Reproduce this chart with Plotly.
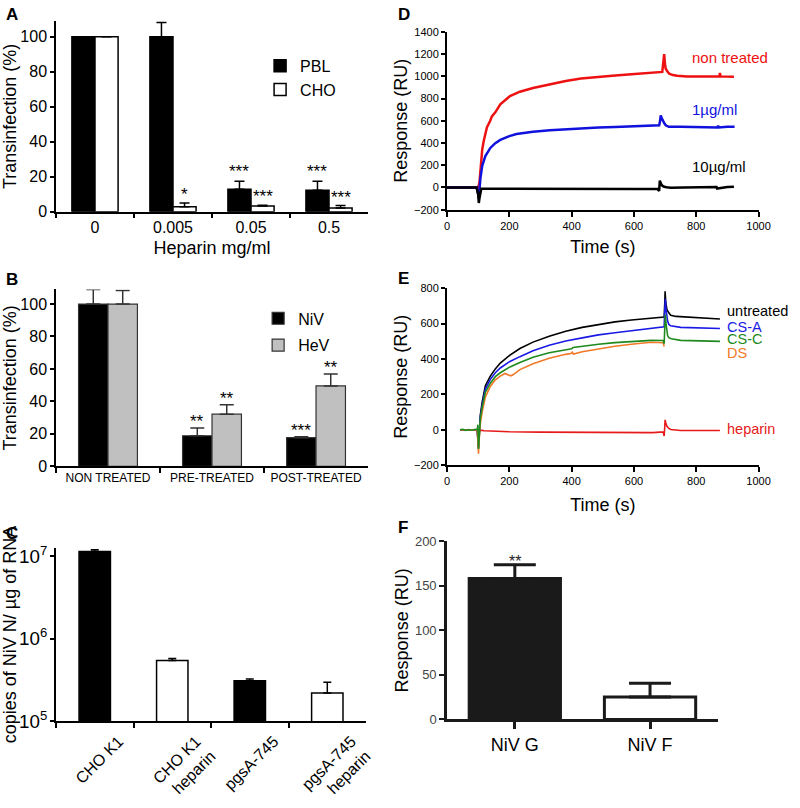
import plotly.graph_objects as go

FONT = "Arial, Liberation Sans, sans-serif"
W, H = 800, 808

# ---------------- data ----------------
# Panel A
a_conc = ["0", "0.005", "0.05", "0.5"]
a_pbl = [100, 100, 12.8, 12.2]
a_pbl_err = [0, 8.2, 4.6, 5.2]
a_cho = [100, 2.8, 3.2, 2.1]
a_cho_err = [0, 2.2, 0.5, 1.4]
a_pbl_sig = ["", "", "***", "***"]
a_cho_sig = ["", "*", "***", "***"]

# Panel B
b_groups = ["NON TREATED", "PRE-TREATED", "POST-TREATED"]
b_niv = [100, 18.8, 17.6]
b_niv_err = [9.0, 4.8, 0.6]
b_hev = [100, 32.1, 49.5]
b_hev_err = [8.4, 5.8, 7.4]
b_niv_sig = ["", "**", "***"]
b_hev_sig = ["", "**", "**"]

# Panel C
c_cells = ["CHO K1", "CHO K1<br>heparin", "pgsA-745", "pgsA-745<br>heparin"]
c_copies = [1.15e7, 5.45e5, 3.1e5, 2.2e5]
c_copies_err = [0.06e7, 0.3e5, 0.15e5, 0.77e5]

# Panel D (SPR sensorgrams)
d_red_t = [0, 50, 100, 104, 107, 113, 118, 123, 128, 139, 144, 155, 171, 202, 234, 276, 330, 381, 430, 486,
           540, 592, 655, 691, 694, 697, 700, 702, 707, 713, 725, 739, 770, 802, 840, 874, 876, 878, 900, 921]
d_red_v = [0, 0, 0, 40, 166, 341, 420, 487, 540, 603, 640, 676, 749, 822, 862, 895, 930, 959, 980, 997,
           1008, 1020, 1035, 1040, 1120, 1200, 1100, 1069, 1045, 1025, 1012, 1006, 1000, 997, 998, 1000, 1030, 1000, 997, 997]
d_blue_t = [0, 50, 95, 100, 102, 104, 107, 113, 123, 139, 155, 171, 200, 223, 250, 276, 330, 381, 430, 486,
            540, 592, 655, 681, 684, 686, 689, 692, 697, 702, 712, 750, 802, 840, 868, 870, 872, 900, 923]
d_blue_v = [0, 0, 0, -60, -96, -30, 79, 195, 283, 356, 399, 428, 462, 481, 493, 501, 515, 525, 533, 539,
            544, 548, 554, 560, 600, 648, 625, 604, 580, 560, 546, 546, 546, 545, 540, 555, 540, 546, 546]
d_black_t = [0, 50, 95, 100, 102, 104, 107, 110, 150, 200, 300, 400, 500, 600, 676, 681, 683, 685, 688, 692,
             697, 705, 718, 760, 802, 865, 867, 900, 921]
d_black_v = [0, 0, 0, -60, -140, -100, -30, -12, -12, -13, -14, -15, -15, -15, -15, -32, 61, 45, 26, 14,
             6, 2, -3, 0, 3, 5, -10, 4, 6]
d_labels = ["non treated", "1µg/ml", "10µg/ml"]
d_label_t = [781, 781, 781]
d_label_v = [1133, 670, 155]

# Panel E
e_black_t = [42, 60, 80, 97, 99, 101, 103, 107, 113, 123, 139, 155, 171, 202, 234, 276, 328, 381, 434, 486,
             539, 592, 655, 697, 699, 700, 702, 706, 712, 718, 735, 750, 802, 876]
e_black_v = [0, 0, 0, 0, -50, -100, -40, 84, 157, 249, 303, 344, 377, 422, 459, 495, 528, 556, 578, 594,
             609, 620, 632, 636, 720, 782, 720, 678, 660, 647, 640, 638, 632, 625]
e_blue_t = [42, 60, 80, 97, 99, 101, 103, 107, 113, 123, 139, 155, 171, 202, 234, 276, 328, 381, 434, 486,
            539, 592, 655, 697, 699, 701, 703, 708, 712, 718, 750, 802, 876]
e_blue_v = [0, 0, 0, 0, -50, -105, -40, 75, 139, 230, 285, 322, 349, 386, 413, 446, 477, 501, 519, 536,
            548, 559, 572, 581, 680, 740, 680, 614, 595, 587, 578, 575, 572]
e_green_t = [42, 50, 60, 70, 80, 90, 97, 99, 101, 103, 107, 113, 123, 139, 155, 171, 202, 234, 276, 328,
             381, 400, 405, 434, 486, 539, 592, 655, 694, 697, 699, 701, 703, 708, 712, 720, 750, 802, 876]
e_green_v = [0, 3, -3, 2, -2, 3, 0, 29, -108, -40, 66, 130, 212, 263, 300, 322, 355, 380, 409, 435,
             453, 458, 465, 472, 483, 492, 499, 505, 504, 486, 580, 650, 600, 532, 520, 514, 505, 502, 499]
e_orange_t = [42, 60, 80, 97, 99, 101, 103, 107, 113, 123, 139, 155, 171, 186, 197, 205, 213, 220, 234, 276,
              328, 381, 400, 402, 406, 434, 486, 539, 592, 655, 694, 697]
e_orange_v = [0, 0, 0, 0, -60, -135, -60, 38, 102, 185, 245, 282, 303, 318, 309, 305, 312, 322, 340, 373,
              404, 426, 432, 438, 428, 441, 457, 472, 483, 494, 491, 470]
e_red_t = [42, 97, 99, 101, 103, 107, 120, 150, 200, 300, 400, 500, 600, 660, 694, 697, 699, 700, 702, 706,
           712, 718, 750, 802, 876]
e_red_v = [0, 0, -20, -40, -10, -2, -5, -8, -11, -13, -15, -15, -15, -16, -12, -35, 20, 56, 40, 20,
           8, 2, -4, -4, -4]
e_labels = ["untreated", "CS-A", "CS-C", "DS", "heparin"]
e_label_t = [896, 896, 896, 896, 896]
e_label_v = [669, 580, 511, 435, 7]

# Panel F
f_proteins = ["NiV G", "NiV F"]
f_response = [158.2, 25.1]
f_response_err = [15.6, 15.6]
f_sig = ["**", ""]

# ---------------- helpers ----------------
def dom_x(l, r):
    return [l / W, r / W]

def dom_y(bottom, top):
    return [1 - bottom / H, 1 - top / H]

def axis(**kw):
    base = dict(showline=True, linecolor="black", linewidth=1.5, ticks="outside",
                tickcolor="black", tickwidth=1.5, showgrid=False, zeroline=False,
                tickfont=dict(family=FONT, size=16, color="black"), fixedrange=True)
    base.update(kw)
    return base

def ttl(text, size=18, standoff=None):
    d = dict(text=text, font=dict(family=FONT, size=size, color="black"))
    if standoff is not None:
        d["standoff"] = standoff
    return d

fig = go.Figure()
ann = []

# ---------------- Panel A ----------------
BW_A = 0.296
ebA = dict(type="data", symmetric=False, thickness=1.5, width=5, color="black")
fig.add_trace(go.Bar(x=a_conc, y=a_pbl, name="PBL", width=BW_A, offset=-BW_A,
                     marker=dict(color="black", line=dict(color="black", width=1.5)),
                     error_y=dict(ebA, array=a_pbl_err, arrayminus=[0] * 4),
                     xaxis="x", yaxis="y", legend="legend", legendgroup="pbl"))
fig.add_trace(go.Bar(x=a_conc, y=a_cho, name="CHO", width=BW_A, offset=0,
                     marker=dict(color="white", line=dict(color="black", width=1.5)),
                     error_y=dict(ebA, array=a_cho_err, arrayminus=[0] * 4),
                     xaxis="x", yaxis="y", legend="legend", legendgroup="cho"))
for i, (s, v, e) in enumerate(zip(a_pbl_sig, a_pbl, a_pbl_err)):
    if s:
        ann.append(dict(x=i - BW_A / 2, y=v + e, xref="x", yref="y", text=s, showarrow=False,
                        yanchor="bottom", yshift=-2, font=dict(family=FONT, size=17, color="black")))
for i, (s, v, e) in enumerate(zip(a_cho_sig, a_cho, a_cho_err)):
    if s:
        ann.append(dict(x=i + BW_A / 2, y=v + e, xref="x", yref="y", text=s, showarrow=False,
                        yanchor="bottom", yshift=-3, font=dict(family=FONT, size=17, color="black")))

# ---------------- Panel B ----------------
BW_B = 0.283
ebB = dict(type="data", symmetric=False, thickness=1.5, width=7, color="#333333")
fig.add_trace(go.Bar(x=b_groups, y=b_niv, name="NiV", width=BW_B, offset=-BW_B,
                     marker=dict(color="black", line=dict(color="#333333", width=1.2)),
                     error_y=dict(ebB, array=b_niv_err, arrayminus=[0] * 3),
                     xaxis="x2", yaxis="y2", legend="legend2", legendgroup="niv"))
fig.add_trace(go.Bar(x=b_groups, y=b_hev, name="HeV", width=BW_B, offset=0,
                     marker=dict(color="#c0c0c0", line=dict(color="#333333", width=1.2)),
                     error_y=dict(ebB, array=b_hev_err, arrayminus=[0] * 3),
                     xaxis="x2", yaxis="y2", legend="legend2", legendgroup="hev"))
for i, (s, v, e) in enumerate(zip(b_niv_sig, b_niv, b_niv_err)):
    if s:
        ann.append(dict(x=i - BW_B / 2, y=v + e, xref="x2", yref="y2", text=s, showarrow=False,
                        yanchor="bottom", yshift=-5, font=dict(family=FONT, size=17, color="black")))
for i, (s, v, e) in enumerate(zip(b_hev_sig, b_hev, b_hev_err)):
    if s:
        ann.append(dict(x=i + BW_B / 2, y=v + e, xref="x2", yref="y2", text=s, showarrow=False,
                        yanchor="bottom", yshift=-5, font=dict(family=FONT, size=17, color="black")))

# ---------------- Panel C ----------------
fig.add_trace(go.Bar(x=c_cells, y=c_copies, width=0.405, showlegend=False,
                     marker=dict(color=["black", "white", "black", "white"],
                                 line=dict(color="black", width=1.5)),
                     error_y=dict(type="data", symmetric=False, array=c_copies_err,
                                  arrayminus=[0] * 4, thickness=1.5, width=4, color="black"),
                     xaxis="x3", yaxis="y3"))

# ---------------- Panel D ----------------
for t, v, c in [(d_red_t, d_red_v, "#ee1111"), (d_blue_t, d_blue_v, "#1111dd"),
                (d_black_t, d_black_v, "black")]:
    fig.add_trace(go.Scatter(x=t, y=v, mode="lines", line=dict(color=c, width=2.5),
                             showlegend=False, xaxis="x4", yaxis="y4"))
for txt, t, v, c in zip(d_labels, d_label_t, d_label_v, ["#ee1111", "#1111dd", "black"]):
    ann.append(dict(x=t, y=v, xref="x4", yref="y4", text=txt, showarrow=False, xanchor="left",
                    yanchor="middle", yshift=4, font=dict(family=FONT, size=15, color=c)))

# ---------------- Panel E ----------------
E_COLORS = {"black": "black", "blue": "#1a1ae6", "green": "#1e8a1e", "orange": "#f07a28", "red": "#e61a1a"}
for t, v, c in [(e_red_t, e_red_v, E_COLORS["red"]), (e_black_t, e_black_v, E_COLORS["black"]),
                (e_blue_t, e_blue_v, E_COLORS["blue"]), (e_orange_t, e_orange_v, E_COLORS["orange"]),
                (e_green_t, e_green_v, E_COLORS["green"])]:
    fig.add_trace(go.Scatter(x=t, y=v, mode="lines", line=dict(color=c, width=1.6),
                             showlegend=False, xaxis="x5", yaxis="y5"))
for txt, t, v, c in zip(e_labels, e_label_t, e_label_v,
                        [E_COLORS["black"], E_COLORS["blue"], E_COLORS["green"], E_COLORS["orange"], E_COLORS["red"]]):
    ann.append(dict(x=t, y=v, xref="x5", yref="y5", text=txt, showarrow=False, xanchor="left",
                    yanchor="middle", borderpad=0,
                    font=dict(family=FONT, size=14.5, color=c)))

# ---------------- Panel F ----------------
fig.add_trace(go.Bar(x=f_proteins, y=f_response, width=0.675, showlegend=False,
                     marker=dict(color=["#1a1a1a", "white"], line=dict(color="#1a1a1a", width=3)),
                     error_y=dict(type="data", symmetric=False, array=f_response_err,
                                  arrayminus=[0] * 2, thickness=3, width=21, color="#1a1a1a"),
                     xaxis="x6", yaxis="y6"))
for i, (s, v, e) in enumerate(zip(f_sig, f_response, f_response_err)):
    if s:
        ann.append(dict(x=i, y=v + e, xref="x6", yref="y6", text=s, showarrow=False,
                        yanchor="bottom", yshift=-7, font=dict(family=FONT, size=16, color="#222")))

# panel letters
for L, px, py in [("A", 1, 8), ("B", 1, 280), ("C", 1, 542), ("D", 401, 8), ("E", 401, 279), ("F", 401, 536)]:
    ann.append(dict(x=px / W, y=1 - py / H, xref="paper", yref="paper", text="<b>%s</b>" % L,
                    showarrow=False, xanchor="left", yanchor="middle",
                    font=dict(family=FONT, size=17, color="black")))

fig.update_layout(
    width=W, height=H, margin=dict(l=0, r=0, t=0, b=0),
    paper_bgcolor="white", plot_bgcolor="white",
    barmode="overlay", annotations=ann,
    font=dict(family=FONT, color="black"),
    # A
    xaxis=axis(domain=dom_x(54, 372), anchor="y", type="category", range=[-0.5, 3.5],
               tickson="boundaries", ticklen=5,
               title=ttl("Heparin mg/ml", standoff=7)),
    yaxis=axis(domain=dom_y(210.7, 14.5), anchor="x", range=[0, 109], dtick=20, ticklen=4,
               title=ttl("Transinfection (%)", standoff=2)),
    # B
    xaxis2=axis(domain=dom_x(54, 372), anchor="y2", type="category", range=[-0.5, 2.5],
                tickson="boundaries", ticklen=5, tickfont=dict(family=FONT, size=12, color="black")),
    yaxis2=axis(domain=dom_y(472.7, 290.7), anchor="x2", range=[0, 109], dtick=20, ticklen=4,
                title=ttl("Transinfection (%)", standoff=2)),
    # C
    xaxis3=axis(domain=dom_x(54, 370), anchor="y3", type="category", range=[-0.5, 3.5],
                tickson="boundaries", ticklen=5, tickangle=-45, ticklabelshift=24,
                ticklabelstandoff=3),
    yaxis3=axis(domain=dom_y(735, 556.7), anchor="x3", type="log", range=[5, 7.105], dtick=1,
                exponentformat="power", ticklen=4, tickfont=dict(family=FONT, size=15, color="black"),
                title=ttl("copies of NiV N/ µg of RNA", standoff=2)),
    # D
    xaxis4=axis(domain=dom_x(452.5, 770), anchor="y4", range=[0, 1000], dtick=200, ticklen=5,
                linewidth=2, tickfont=dict(family=FONT, size=11, color="black"),
                title=ttl("Time (s)", standoff=10)),
    yaxis4=axis(domain=dom_y(208.6, 25.7), anchor="x4", range=[-200, 1400], dtick=200, ticklen=4,
                linewidth=2, tickfont=dict(family=FONT, size=11, color="black"),
                title=ttl("Response (RU)", standoff=2)),
    # E
    xaxis5=axis(domain=dom_x(452.5, 770), anchor="y5", range=[0, 1000], dtick=200, ticklen=5,
                linewidth=2, tickfont=dict(family=FONT, size=11, color="black"),
                title=ttl("Time (s)", standoff=12)),
    yaxis5=axis(domain=dom_y(471.7, 289.3), anchor="x5", range=[-200, 800], dtick=200, ticklen=4,
                linewidth=2, tickfont=dict(family=FONT, size=11, color="black"),
                title=ttl("Response (RU)", standoff=2)),
    # F
    xaxis6=axis(domain=dom_x(452.7, 728.3), anchor="y6", type="category", range=[-0.5, 1.5],
                ticklen=7, linewidth=3, tickwidth=2.5, linecolor="#1a1a1a", tickcolor="#1a1a1a",
                tickfont=dict(family=FONT, size=18, color="black")),
    yaxis6=axis(domain=dom_y(733.3, 550), anchor="x6", range=[0, 200], dtick=50, ticklen=5,
                linewidth=3, tickwidth=2, linecolor="#1a1a1a", tickcolor="#1a1a1a",
                tickfont=dict(family=FONT, size=13, color="#444444"),
                title=ttl("Response (RU)", standoff=2)),
    legend=dict(x=262 / W, y=1 - 43 / H, xanchor="left", yanchor="top", bgcolor="rgba(0,0,0,0)",
                font=dict(family=FONT, size=16, color="black"), tracegroupgap=0),
    legend2=dict(x=260 / W, y=1 - 303 / H, xanchor="left", yanchor="top", bgcolor="rgba(0,0,0,0)",
                 font=dict(family=FONT, size=16, color="black"), tracegroupgap=3),
)

fig.write_html("out.html", config={"displayModeBar": False},
               post_script="document.body.style.margin='0';document.body.style.overflow='hidden';")
